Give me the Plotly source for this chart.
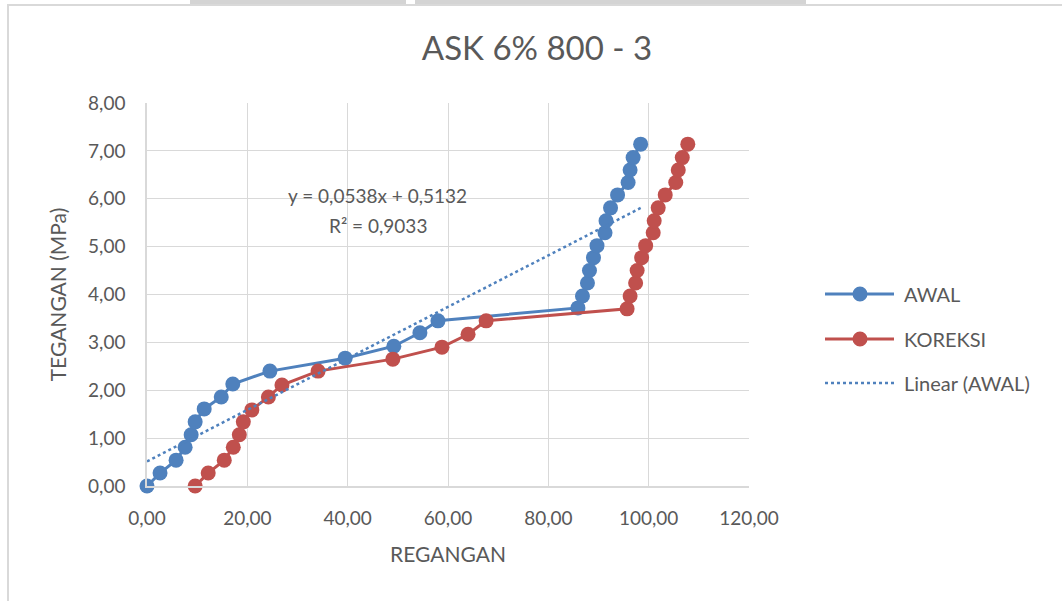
import plotly.graph_objects as go

# ---------------- data ----------------
awal_x = [0.0, 2.6, 5.8, 7.6, 8.8, 9.6, 11.4, 14.8, 17.1, 24.5, 39.5, 49.2, 54.4, 58.0,
          85.9, 86.8, 87.8, 88.2, 89.0, 89.7, 91.3, 91.5, 92.4, 93.8, 95.9, 96.3, 96.9, 98.4]
awal_y = [0.00, 0.27, 0.54, 0.81, 1.07, 1.34, 1.61, 1.86, 2.13, 2.40, 2.67, 2.92, 3.20, 3.45,
          3.72, 3.97, 4.24, 4.50, 4.77, 5.02, 5.29, 5.54, 5.81, 6.08, 6.34, 6.60, 6.86, 7.14]

koreksi_x = [9.6, 12.2, 15.4, 17.2, 18.4, 19.2, 20.9, 24.2, 26.9, 34.1, 49.0, 58.8, 64.0, 67.6,
             95.7, 96.3, 97.4, 97.7, 98.6, 99.4, 100.9, 101.1, 101.9, 103.3, 105.4, 105.9, 106.7, 107.8]
koreksi_y = [0.00, 0.27, 0.54, 0.81, 1.07, 1.34, 1.59, 1.86, 2.11, 2.40, 2.65, 2.90, 3.17, 3.45,
             3.70, 3.97, 4.24, 4.50, 4.77, 5.02, 5.29, 5.54, 5.81, 6.08, 6.34, 6.60, 6.86, 7.14]

trend_slope = 0.0538
trend_intercept = 0.5132
trend_r2 = 0.9033

series_names = ["AWAL", "KOREKSI", "Linear (AWAL)"]
title_text = "ASK 6% 800 - 3"
x_title = "REGANGAN"
y_title = "TEGANGAN (MPa)"

# ---------------- style ----------------
BLUE = "#4F81BD"
RED = "#C0504D"
TEXT = "#595959"
GRID = "#D9D9D9"
FONT = "Lato"

W, H = 1062, 601
L, R, T, B = 147, 749, 103, 486  # plot area in pixels


def px(x):
    return (x - L) / (R - L)


def py(y):
    return (B - y) / (B - T)


trend_x = [0.0, max(awal_x)]
trend_y = [trend_slope * v + trend_intercept for v in trend_x]

fig = go.Figure()
fig.add_trace(go.Scatter(x=awal_x, y=awal_y, mode="lines+markers", name=series_names[0],
                         line=dict(color=BLUE, width=3), cliponaxis=False,
                         marker=dict(color=BLUE, size=15), showlegend=False))
fig.add_trace(go.Scatter(x=koreksi_x, y=koreksi_y, mode="lines+markers", name=series_names[1],
                         line=dict(color=RED, width=3), cliponaxis=False,
                         marker=dict(color=RED, size=15), showlegend=False))
fig.add_trace(go.Scatter(x=trend_x, y=trend_y, mode="lines", name=series_names[2],
                         line=dict(color=BLUE, width=2.5, dash="dot"), showlegend=False))

shapes = []
annotations = []

# outer chart border
shapes.append(dict(type="rect", xref="paper", yref="paper",
                   x0=px(8), x1=px(1075), y0=py(5), y1=py(615),
                   line=dict(color="#D9D9D9", width=2), fillcolor="rgba(0,0,0,0)", layer="below"))
# light grey page fragments above the chart frame
for a, b in [(190, 406), (415, 806)]:
    shapes.append(dict(type="rect", xref="paper", yref="paper",
                       x0=px(a), x1=px(b), y0=py(4), y1=py(-2),
                       line=dict(width=0), fillcolor="#D4D4D4", layer="below"))

# custom legend
leg_y = [294, 339, 383]
colors = [BLUE, RED, BLUE]
for i, name in enumerate(series_names):
    yy = py(leg_y[i])
    if i < 2:
        shapes.append(dict(type="line", xref="paper", yref="paper",
                           x0=px(825), x1=px(894), y0=yy, y1=yy,
                           line=dict(color=colors[i], width=3)))
        shapes.append(dict(type="circle", xref="paper", yref="paper",
                           x0=px(852.5), x1=px(867.5), y0=py(leg_y[i] + 7.5), y1=py(leg_y[i] - 7.5),
                           line=dict(color=colors[i], width=0), fillcolor=colors[i]))
    else:
        shapes.append(dict(type="line", xref="paper", yref="paper",
                           x0=px(825), x1=px(894), y0=yy, y1=yy,
                           line=dict(color=colors[i], width=2.5, dash="dot")))
    annotations.append(dict(text=name, xref="paper", yref="paper", x=px(902), y=yy,
                            xanchor="left", yanchor="middle", showarrow=False,
                            font=dict(family=FONT, size=20, color=TEXT)))

# trendline equation
eq_text = "y = " + f"{trend_slope:.4f}".replace(".", ",") + "x + " + f"{trend_intercept:.4f}".replace(".", ",")
r2_text = "R² = " + f"{trend_r2:.4f}".replace(".", ",")
annotations.append(dict(text=eq_text, xref="paper", yref="paper", x=px(377), y=py(195),
                        xanchor="center", yanchor="middle", showarrow=False,
                        font=dict(family=FONT, size=19, color=TEXT)))
annotations.append(dict(text=r2_text, xref="paper", yref="paper", x=px(378), y=py(225),
                        xanchor="center", yanchor="middle", showarrow=False,
                        font=dict(family=FONT, size=19, color=TEXT)))

fig.update_layout(
    width=W, height=H,
    margin=dict(l=L, r=W - R, t=T, b=H - B, pad=0),
    paper_bgcolor="white", plot_bgcolor="white",
    separators=",.",
    title=dict(text=title_text, x=537 / W, xref="container", xanchor="center",
               y=1 - 48 / H, yref="container", yanchor="middle",
               font=dict(family=FONT, size=33, color=TEXT)),
    font=dict(family=FONT, color=TEXT),
    shapes=shapes,
    annotations=annotations,
    showlegend=False,
)

fig.update_xaxes(range=[0, 120], tick0=0, dtick=20, tickformat=".2f",
                 showgrid=True, gridcolor=GRID, gridwidth=1.3,
                 showline=True, linecolor=GRID, linewidth=1.5,
                 zeroline=False, ticks="", ticklabelstandoff=14,
                 tickfont=dict(family=FONT, size=19, color=TEXT),
                 title=dict(text=x_title, standoff=20, font=dict(family=FONT, size=21, color=TEXT)))
fig.update_yaxes(range=[0, 8], tick0=0, dtick=1, tickformat=".2f",
                 showgrid=True, gridcolor=GRID, gridwidth=1.3,
                 showline=True, linecolor=GRID, linewidth=1.5,
                 zeroline=False, ticks="", ticklabelstandoff=16,
                 tickfont=dict(family=FONT, size=19, color=TEXT),
                 title=dict(text=y_title, standoff=16, font=dict(family=FONT, size=21, color=TEXT)))

fig.write_html("out.html")
